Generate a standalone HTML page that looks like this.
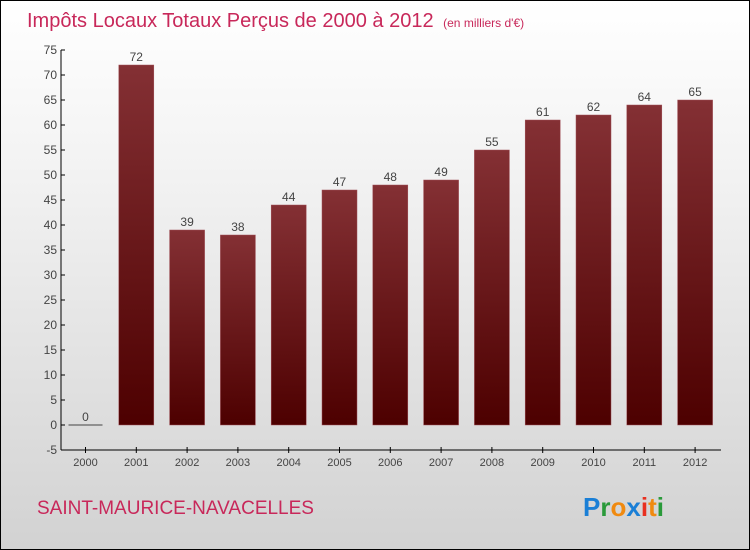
<!DOCTYPE html>
<html><head><style>
body{margin:0}
#c{width:750px;height:550px;position:relative;box-sizing:border-box;border:1px solid #000;background:linear-gradient(#fff,#f3f3f3 30%,#d2d2d2);font-family:"Liberation Sans",sans-serif;overflow:hidden}
</style></head><body>
<div id="c">
<svg width="748" height="548" style="position:absolute;left:0;top:0" id="svg">
<defs><linearGradient id="g" x1="0" y1="0" x2="0" y2="1"><stop offset="0" stop-color="#843034"/><stop offset="1" stop-color="#4d0000"/></linearGradient></defs>
<text x="26" y="26" font-size="20" fill="#c8285a">Impôts Locaux Totaux Perçus de 2000 à 2012 <tspan font-size="12" dx="4">(en milliers d'€)</tspan></text>
<g id="plot"></g>
<text x="36" y="513" font-size="19" fill="#c8285a">SAINT-MAURICE-NAVACELLES</text>
<text x="582" y="515" font-size="26" font-weight="bold"><tspan fill="#1a7fd6">P</tspan><tspan fill="#2a9a3a">r</tspan><tspan fill="#f08a10">o</tspan><tspan fill="#1a7fd6">x</tspan><tspan fill="#e83020">i</tspan><tspan fill="#f08a10">t</tspan><tspan fill="#2a9a3a">i</tspan></text>
</svg>
</div>
<script>
const years=["2000","2001","2002","2003","2004","2005","2006","2007","2008","2009","2010","2011","2012"];
const values=[0,72,39,38,44,47,48,49,55,61,62,64,65];
const yTicks=[-5,0,5,10,15,20,25,30,35,40,45,50,55,60,65,70,75];
const NS="http://www.w3.org/2000/svg";
const g=document.getElementById('plot');
const y=v=>424-(v)*5;
const x=i=>84.5+i*50.8;
function el(t,a,txt){const e=document.createElementNS(NS,t);for(const k in a)e.setAttribute(k,a[k]);if(txt!==undefined)e.textContent=txt;g.appendChild(e);return e;}
let ax=el('line',{x1:60,y1:y(75),x2:60,y2:y(-5),stroke:'#000'});


let xa=el('line',{x1:60,y1:y(-5),x2:720,y2:y(-5),stroke:'#000'});


yTicks.forEach(v=>{
 el('line',{x1:60,x2:64,y1:y(v),y2:y(v),stroke:'#000'});
 const t=el('text',{x:56,y:y(v)+4,'text-anchor':'end','font-size':12,fill:'#444'},v);
 
 
});
years.forEach((yr,i)=>{
 const v=values[i];
 el('line',{x1:x(i),x2:x(i),y1:y(-5)-3,y2:y(-5)+3,stroke:'#000'});
 const t=el('text',{x:x(i),y:y(-5)+16,'text-anchor':'middle','font-size':11,fill:'#444'},yr);
 
 
 let b;
 if(v===0){b=el('line',{x1:x(i)-17,x2:x(i)+17,y1:y(0),y2:y(0),stroke:'#444'});}
 else b=el('rect',{x:x(i)-17.5,y:y(v),width:35,height:y(0)-y(v),fill:'url(#g)',stroke:'#a05058','stroke-width':0.5});
 
 
 const l=el('text',{x:x(i),y:y(v)-4,'text-anchor':'middle','font-size':12,fill:'#444'},v);
 
 
});
</script>
</body></html>
